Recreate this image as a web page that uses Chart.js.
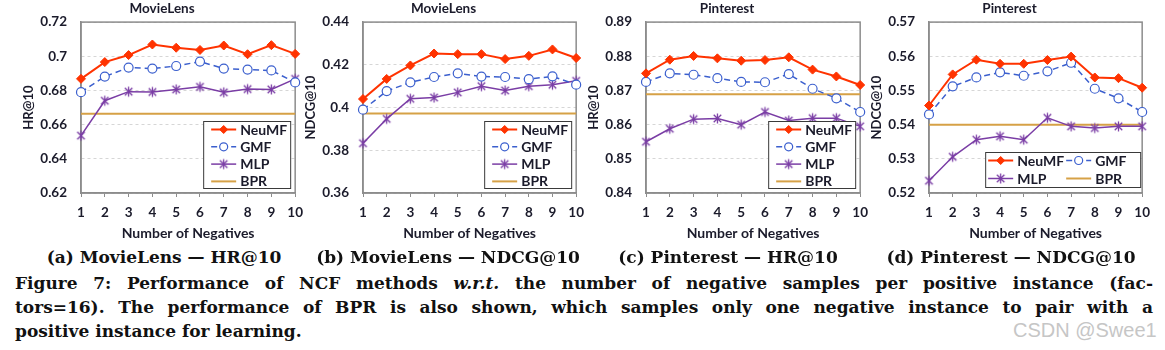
<!DOCTYPE html>
<html>
<head>
<meta charset="utf-8">
<script src="https://cdn.jsdelivr.net/npm/chart.js@4.4.1/dist/chart.umd.min.js"></script>
<style>
  html, body { margin: 0; padding: 0; background: #fff; }
  #fig { position: relative; width: 1165px; height: 350px; overflow: hidden; }
  #fig canvas { position: absolute; top: 0; }
  .sub, .jline, .mark {
    position: absolute; font-family: "DejaVu Serif", serif; font-weight: bold;
    color: #111; font-size: 17px; line-height: 24px; white-space: nowrap;
  }
  .sub { top: 245px; transform: translateX(-50%); }
  .jline { left: 15px; width: 1138px; white-space: normal; }
  .jline.just { text-align: justify; text-align-last: justify; }
  .mark { font-family: "Liberation Sans", Arial, sans-serif; font-weight: normal; font-size: 20px; color: #c6c6c6; left: 1013px; top: 318px; }
</style>
</head>
<body>
<div id="fig">
  <canvas id="c1" width="311" height="245" style="left:0px"></canvas>
  <canvas id="c2" width="310" height="245" style="left:282px"></canvas>
  <canvas id="c3" width="311" height="245" style="left:565px"></canvas>
  <canvas id="c4" width="310" height="245" style="left:848px"></canvas>

  <div class="sub" style="left:164px">(a) MovieLens — HR@10</div>
  <div class="sub" style="left:448px">(b) MovieLens — NDCG@10</div>
  <div class="sub" style="left:728px">(c) Pinterest — HR@10</div>
  <div class="sub" style="left:1011px">(d) Pinterest — NDCG@10</div>

  <div class="jline just" style="top:271px">Figure 7: Performance of NCF methods <i>w.r.t.</i> the number of negative samples per positive instance (fac-</div>
  <div class="jline just" style="top:295px">tors=16). The performance of BPR is also shown, which samples only one negative instance to pair with a</div>
  <div class="jline" style="top:319px">positive instance for learning.</div>
  <div class="mark">CSDN @Swee1</div>
</div>

<script>
/* ── data ─────────────────────────────────────────────── */
const negatives   = ['1', '2', '3', '4', '5', '6', '7', '8', '9', '10'];
const seriesNames = ['NeuMF', 'GMF', 'MLP', 'BPR'];
const panelTitles = ['MovieLens', 'MovieLens', 'Pinterest', 'Pinterest'];
const yTitles     = ['HR@10', 'NDCG@10', 'HR@10', 'NDCG@10'];

// (a) MovieLens — HR@10
const mlHrNeuMF = [0.6868, 0.6966, 0.7007, 0.7069, 0.7050, 0.7037, 0.7063, 0.7012, 0.7065, 0.7014];
const mlHrGMF   = [0.6790, 0.6881, 0.6934, 0.6928, 0.6943, 0.6969, 0.6928, 0.6922, 0.6917, 0.6847];
const mlHrMLP   = [0.6536, 0.6740, 0.6793, 0.6791, 0.6806, 0.6821, 0.6789, 0.6808, 0.6806, 0.6868];
const mlHrBPR   = [0.6664, 0.6664, 0.6664, 0.6664, 0.6664, 0.6664, 0.6664, 0.6664, 0.6664, 0.6664];
const mlHrTicks = [0.62, 0.64, 0.66, 0.68, 0.70, 0.72];

// (b) MovieLens — NDCG@10
const mlNdNeuMF = [0.4040, 0.4134, 0.4197, 0.4253, 0.4250, 0.4250, 0.4227, 0.4242, 0.4272, 0.4232];
const mlNdGMF   = [0.3990, 0.4077, 0.4118, 0.4143, 0.4160, 0.4145, 0.4143, 0.4133, 0.4146, 0.4107];
const mlNdMLP   = [0.3833, 0.3947, 0.4041, 0.4047, 0.4071, 0.4100, 0.4080, 0.4100, 0.4107, 0.4125];
const mlNdBPR   = [0.3972, 0.3972, 0.3972, 0.3972, 0.3972, 0.3972, 0.3972, 0.3972, 0.3972, 0.3972];
const mlNdTicks = [0.36, 0.38, 0.40, 0.42, 0.44];

// (c) Pinterest — HR@10
const ptHrNeuMF = [0.8750, 0.8790, 0.8801, 0.8794, 0.8787, 0.8789, 0.8797, 0.8761, 0.8741, 0.8716];
const ptHrGMF   = [0.8725, 0.8750, 0.8746, 0.8736, 0.8725, 0.8724, 0.8748, 0.8705, 0.8677, 0.8637];
const ptHrMLP   = [0.8550, 0.8588, 0.8616, 0.8618, 0.8600, 0.8637, 0.8612, 0.8619, 0.8619, 0.8595];
const ptHrBPR   = [0.8689, 0.8689, 0.8689, 0.8689, 0.8689, 0.8689, 0.8689, 0.8689, 0.8689, 0.8689];
const ptHrTicks = [0.84, 0.85, 0.86, 0.87, 0.88, 0.89];

// (d) Pinterest — NDCG@10
const ptNdNeuMF = [0.5456, 0.5547, 0.5590, 0.5578, 0.5578, 0.5589, 0.5599, 0.5538, 0.5536, 0.5508];
const ptNdGMF   = [0.5430, 0.5512, 0.5538, 0.5553, 0.5543, 0.5556, 0.5581, 0.5505, 0.5477, 0.5437];
const ptNdMLP   = [0.5236, 0.5306, 0.5356, 0.5366, 0.5356, 0.5420, 0.5395, 0.5390, 0.5395, 0.5395];
const ptNdBPR   = [0.5400, 0.5400, 0.5400, 0.5400, 0.5400, 0.5400, 0.5400, 0.5400, 0.5400, 0.5400];
const ptNdTicks = [0.52, 0.53, 0.54, 0.55, 0.56, 0.57];

/* ── styling ──────────────────────────────────────────── */
const TEXT = '#1b1b2b';
const AXIS = '#8c8c8c';
const FONT = 'Lato, "Open Sans", sans-serif';

// Excel-like asterisk marker (X plus a vertical bar)
function makeAsterisk(color, r) {
  const c = document.createElement('canvas');
  const s = Math.ceil(r * 2 + 3);
  c.width = s; c.height = s;
  const g = c.getContext('2d');
  const m = s / 2, d = r * 0.75;
  g.strokeStyle = color;
  g.lineWidth = 1.3;
  g.beginPath();
  g.moveTo(m - d, m - d); g.lineTo(m + d, m + d);
  g.moveTo(m + d, m - d); g.lineTo(m - d, m + d);
  g.moveTo(m, m - r); g.lineTo(m, m + r);
  g.stroke();
  return c;
}
const mlpMarker = makeAsterisk('#7a3da5', 5);

const seriesStyle = [
  { borderColor: '#ff3300', backgroundColor: '#ff3300', borderWidth: 2, pointStyle: 'rectRot', pointRadius: 4.5, pointBorderWidth: 1, pointBackgroundColor: '#ff3300' },
  { borderColor: '#3b5fce', backgroundColor: '#fff', borderWidth: 1.5, borderDash: [6, 4], pointStyle: 'circle', pointRadius: 4.5, pointBorderWidth: 1.2, pointBackgroundColor: '#fff' },
  { borderColor: '#7a3da5', backgroundColor: '#7a3da5', borderWidth: 1.5, pointStyle: mlpMarker, pointRadius: 5, pointBorderWidth: 1.2, pointBackgroundColor: '#7a3da5' },
  { borderColor: '#d6a146', backgroundColor: '#d6a146', borderWidth: 2, pointRadius: 0, pointStyle: false }
];

/* ── plugins ──────────────────────────────────────────── */
// plot frame (box around the chart area)
const framePlugin = {
  id: 'frame',
  beforeDatasetsDraw(chart) {
    const { ctx, chartArea: a } = chart;
    ctx.save();
    ctx.strokeStyle = AXIS;
    ctx.lineWidth = 1.5;
    ctx.strokeRect(a.left, a.top, a.right - a.left, a.bottom - a.top);
    ctx.restore();
  }
};

// small title sitting above the plot, a bit left of centre
const panelTitlePlugin = {
  id: 'panelTitle',
  afterDraw(chart, args, opts) {
    const { ctx, chartArea: a } = chart;
    ctx.save();
    ctx.font = `bold 13.5px ${FONT}`;
    ctx.fillStyle = TEXT;
    ctx.textAlign = 'center';
    ctx.textBaseline = 'middle';
    ctx.fillText(opts.text, (a.left + a.right) / 2 - 26, 8.5);
    ctx.restore();
  }
};

// boxed legend drawn inside the plot (lower right)
const boxLegendPlugin = {
  id: 'boxLegend',
  afterDatasetsDraw(chart, args, opts) {
    const { ctx, chartArea: a } = chart;
    const x0 = a.right - opts.right - opts.width;
    const y0 = a.bottom - opts.bottom - opts.height;
    ctx.save();
    ctx.fillStyle = '#fff';
    ctx.fillRect(x0, y0, opts.width, opts.height);
    ctx.strokeStyle = '#3a3a3a';
    ctx.lineWidth = 1;
    ctx.strokeRect(x0 + 0.5, y0 + 0.5, opts.width, opts.height);

    chart.data.datasets.forEach((ds, i) => {
      const col = i % opts.cols, row = Math.floor(i / opts.cols);
      const lx = x0 + opts.lineX + col * opts.colW;
      const ly = y0 + opts.rowY + row * opts.rowH;

      ctx.beginPath();
      ctx.setLineDash(ds.borderDash || []);
      ctx.lineWidth = ds.borderWidth;
      ctx.strokeStyle = ds.borderColor;
      ctx.moveTo(lx, ly);
      ctx.lineTo(lx + 25, ly);
      ctx.stroke();
      ctx.setLineDash([]);

      if (ds.pointRadius && Chart.helpers && Chart.helpers.drawPoint) {
        ctx.fillStyle = ds.pointBackgroundColor;
        ctx.strokeStyle = ds.borderColor;
        ctx.lineWidth = ds.pointBorderWidth;
        Chart.helpers.drawPoint(ctx, {
          pointStyle: ds.pointStyle, radius: ds.pointRadius - 0.5, rotation: 0, borderWidth: ds.pointBorderWidth
        }, lx + 12.5, ly);
      }

      ctx.font = `bold 14px ${FONT}`;
      ctx.fillStyle = TEXT;
      ctx.textAlign = 'left';
      ctx.textBaseline = 'middle';
      ctx.fillText(ds.label, lx + 29, ly + 0.5);
    });
    ctx.restore();
  }
};

/* ── panels ───────────────────────────────────────────── */
const legendOneCol = { cols: 1, width: 87, height: 67, right: 5, bottom: 5, lineX: 8, rowY: 8.5, rowH: 17.3, colW: 0 };
const legendTwoCol = { cols: 2, width: 155, height: 35, right: 2, bottom: 6, lineX: 3, rowY: 8.5, rowH: 18, colW: 78 };

const panels = [
  { id: 'c1', series: [mlHrNeuMF, mlHrGMF, mlHrMLP, mlHrBPR], ticks: mlHrTicks, legend: legendOneCol },
  { id: 'c2', series: [mlNdNeuMF, mlNdGMF, mlNdMLP, mlNdBPR], ticks: mlNdTicks, legend: legendOneCol },
  { id: 'c3', series: [ptHrNeuMF, ptHrGMF, ptHrMLP, ptHrBPR], ticks: ptHrTicks, legend: legendOneCol },
  { id: 'c4', series: [ptNdNeuMF, ptNdGMF, ptNdMLP, ptNdBPR], ticks: ptNdTicks, legend: legendTwoCol }
];

const tickFont   = { family: FONT, size: 13.5, weight: 'bold' };
const xTitleFont = { family: FONT, size: 14, weight: 'bold' };
const yTitleFont = { family: FONT, size: 13, weight: 'bold' };

panels.forEach((p, k) => {
  const canvas = document.getElementById(p.id);
  const yMin = p.ticks[0], yMax = p.ticks[p.ticks.length - 1];

  new Chart(canvas, {
    type: 'line',
    data: {
      labels: negatives,
      datasets: p.series.map((vals, i) => ({
        label: seriesNames[i],
        data: vals,
        ...seriesStyle[i],
        tension: 0,
        clip: false
      }))
    },
    options: {
      responsive: false,
      animation: false,
      events: [],
      layout: { padding: { left: 0, top: 15, right: 14, bottom: 0 } },
      plugins: {
        legend: { display: false },
        tooltip: { enabled: false },
        panelTitle: { text: panelTitles[k] },
        boxLegend: p.legend
      },
      scales: {
        x: {
          offset: false,
          afterFit: s => { s.height = 52; },
          grid: { drawOnChartArea: false, drawTicks: true, tickLength: 4, color: AXIS, lineWidth: 1 },
          border: { color: AXIS, width: 1.5 },
          ticks: { font: tickFont, color: TEXT, padding: 8, maxRotation: 0, autoSkip: false },
          title: { display: true, text: 'Number of Negatives', font: xTitleFont, color: TEXT, padding: { top: 0, bottom: 3 } }
        },
        y: {
          min: yMin,
          max: yMax,
          afterBuildTicks: s => { s.ticks = p.ticks.map(v => ({ value: v })); },
          afterFit: s => { s.width = 81; },
          grid: { color: '#d6d6d6', lineWidth: 1, drawTicks: false },
          border: { color: AXIS, width: 1.5, dash: [3, 3] },
          ticks: { font: tickFont, color: TEXT, padding: 14, callback: v => String(+v.toFixed(3)) },
          title: { display: true, text: yTitles[k], font: yTitleFont, color: TEXT, padding: { top: 21, bottom: 0 } }
        }
      }
    },
    plugins: [framePlugin, boxLegendPlugin, panelTitlePlugin]
  });
});

// keep each justified caption line on one line
document.querySelectorAll('.jline').forEach(el => {
  let size = 17;
  while (el.scrollHeight > 30 && size > 12) {
    size -= 0.25;
    el.style.fontSize = size + 'px';
  }
});
</script>
</body>
</html>
